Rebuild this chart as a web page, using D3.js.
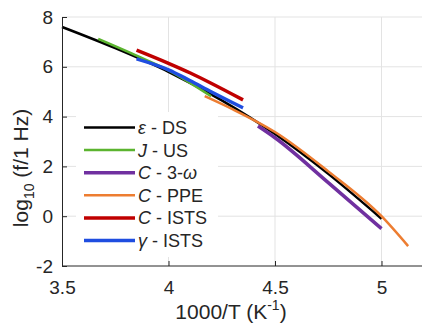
<!DOCTYPE html>
<html>
<head>
<meta charset="utf-8">
<script src="https://cdn.jsdelivr.net/npm/d3@7"></script>
<style>
  body { margin: 0; background: #fff; }
  text { font-family: "Liberation Sans", Arial, sans-serif; fill: #262626; }
</style>
</head>
<body>
<div id="chart"></div>
<script>
// data
const xTicks = [3.5, 4, 4.5, 5];
const yTicks = [-2, 0, 2, 4, 6, 8];

const dsX = [3.5, 3.75, 4.0, 4.25, 4.5, 4.75, 5.0];
const dsY = [7.6, 6.75, 5.8, 4.65, 3.3, 1.7, -0.1];

const usX = [3.67, 3.85, 4.0, 4.2];
const usY = [7.12, 6.45, 5.86, 4.82];

const omegaX = [4.42, 4.5, 4.75, 5.0];
const omegaY = [3.62, 3.15, 1.35, -0.5];

const ppeX = [4.17, 4.3, 4.5, 4.75, 5.0, 5.125];
const ppeY = [4.82, 4.3, 3.38, 1.8, 0.0, -1.2];

const istsCX = [3.85, 4.0, 4.1, 4.2, 4.35];
const istsCY = [6.67, 6.14, 5.76, 5.34, 4.67];

const istsGX = [3.85, 4.0, 4.1, 4.2, 4.35];
const istsGY = [6.32, 5.88, 5.45, 5.0, 4.35];

const series = [
	{ label: 'ε', name: ' - DS', xs: dsX, ys: dsY, color: '#000000', w: 2.5 },
	{ label: 'J', name: ' - US', xs: usX, ys: usY, color: '#5bb42f', w: 2.5 },
	{ label: 'C', name: ' - 3-', sub: 'ω', xs: omegaX, ys: omegaY, color: '#7030a0', w: 3.5 },
	{ label: 'C', name: ' - PPE', xs: ppeX, ys: ppeY, color: '#ed7d31', w: 2.5 },
	{ label: 'C', name: ' - ISTS', xs: istsCX, ys: istsCY, color: '#c00000', w: 3.5 },
	{ label: 'γ', name: ' - ISTS', xs: istsGX, ys: istsGY, color: '#1f4de0', w: 3.5 }
];

const width = 422, height = 324;
const padding = { top: 17, left: 62, bottom: 58 };

const svg = d3.select('#chart')
	.append('svg')
	.attr('width', width)
	.attr('height', height);

const xScale = d3.scaleLinear()
	.domain([3.5, 5.2])
	.range([padding.left, padding.left + 1.7 * 213]);

const yScale = d3.scaleLinear()
	.domain([-2, 8])
	.range([height - padding.bottom, padding.top]);

// grid
svg.append('g')
	.selectAll('line')
	.data(xTicks.slice(1))
	.join('line')
	.attr('x1', d => xScale(d)).attr('x2', d => xScale(d))
	.attr('y1', yScale(-2)).attr('y2', yScale(8))
	.attr('stroke', '#e3e3e3').attr('stroke-width', 1);

svg.append('g')
	.selectAll('line')
	.data(yTicks.slice(1))
	.join('line')
	.attr('x1', xScale(3.5)).attr('x2', width)
	.attr('y1', d => yScale(d)).attr('y2', d => yScale(d))
	.attr('stroke', '#e3e3e3').attr('stroke-width', 1);

// curves
const line = d3.line()
	.x(d => xScale(d[0]))
	.y(d => yScale(d[1]))
	.curve(d3.curveMonotoneX);

series.forEach(s => {
	svg.append('path')
		.attr('d', line(d3.zip(s.xs, s.ys)))
		.attr('fill', 'none')
		.attr('stroke', s.color)
		.attr('stroke-width', s.w);
});

// axes
const xAxis = svg.append('g')
	.attr('transform', `translate(0,${yScale(-2)})`)
	.call(d3.axisBottom(xScale).tickValues(xTicks).tickSizeInner(-5).tickSizeOuter(0).tickPadding(15).tickFormat(d3.format('')));

const yAxis = svg.append('g')
	.attr('transform', `translate(${xScale(3.5)},0)`)
	.call(d3.axisLeft(yScale).tickValues(yTicks).tickSizeInner(-5).tickSizeOuter(0).tickPadding(9).tickFormat(d => d < 0 ? '-' + Math.abs(d) : d));

[xAxis, yAxis].forEach(a => {
	a.select('.domain').attr('stroke', '#262626').attr('stroke-width', 1);
	a.selectAll('.tick line').attr('stroke', '#262626');
	a.selectAll('.tick text')
		.style('font-family', '"Liberation Sans", Arial, sans-serif')
		.style('font-size', '19px')
		.attr('fill', '#262626');
});
xAxis.select('.domain').attr('d', `M${xScale(3.5)},0H${width}`);

// legend
const lg = svg.append('g');
lg.append('rect')
	.attr('x', 76).attr('y', 112).attr('width', 142).attr('height', 145)
	.attr('fill', '#fff');

series.forEach((s, i) => {
	const y = 127.5 + i * 22.6;
	lg.append('line')
		.attr('x1', 84).attr('x2', 135)
		.attr('y1', y).attr('y2', y)
		.attr('stroke', s.color).attr('stroke-width', s.w);
	const t = lg.append('text')
		.attr('x', 138).attr('y', y + 6.5)
		.style('font-size', '18px');
	t.append('tspan').attr('font-style', 'italic').text(s.label);
	t.append('tspan').text(s.name);
	if (s.sub) t.append('tspan').attr('font-style', 'italic').text(s.sub);
});

// axis titles
const xt = svg.append('text')
	.attr('x', 231).attr('y', 319)
	.attr('text-anchor', 'middle')
	.style('font-size', '21px');
xt.append('tspan').text('1000/T (K');
xt.append('tspan').attr('dy', -9).style('font-size', '14px').text('-1');
xt.append('tspan').attr('dy', 9).text(')');

const yt = svg.append('text')
	.attr('transform', 'translate(28,168) rotate(-90)')
	.attr('text-anchor', 'middle')
	.style('font-size', '21px');
yt.append('tspan').text('log');
yt.append('tspan').attr('dy', 6).style('font-size', '14px').text('10');
yt.append('tspan').attr('dy', -6).text(' (f/1 Hz)');
</script>
</body>
</html>
